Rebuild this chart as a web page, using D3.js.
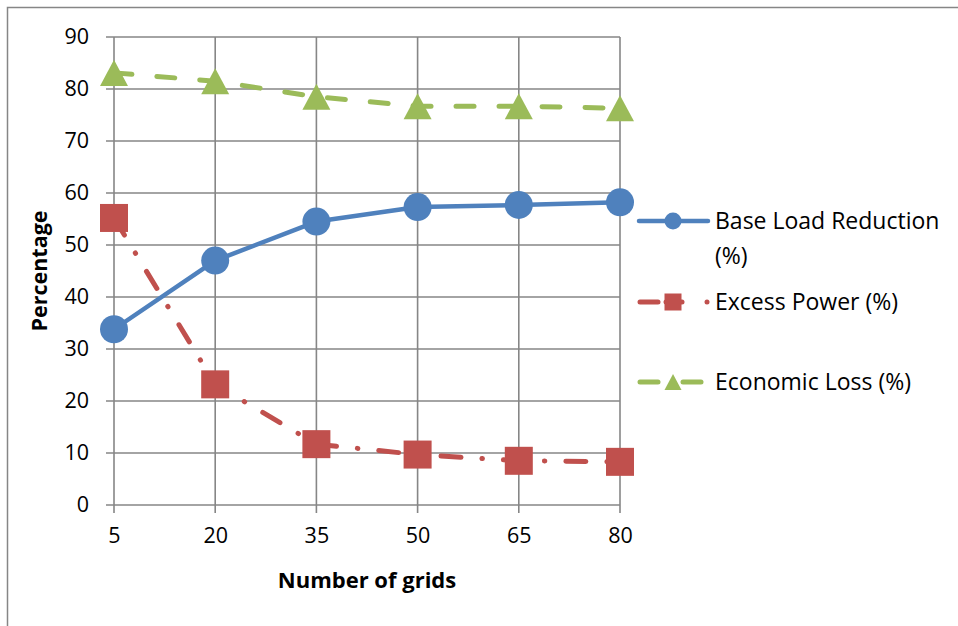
<!DOCTYPE html>
<html>
<head>
<meta charset="utf-8">
<script src="https://cdn.jsdelivr.net/npm/d3@7"></script>
<style>
  html, body { margin: 0; padding: 0; background: #fff; }
  svg { display: block; font-family: "Open Sans", Lato, sans-serif; }
</style>
</head>
<body>
<svg id="chart" width="958" height="626"></svg>
<script>
// Number of grids on the x axis
const grids = ["5", "20", "35", "50", "65", "80"];
// Series values (percent)
const baseLoadReduction = [33.8, 47.0, 54.5, 57.3, 57.7, 58.2];
const excessPower = [55.2, 23.2, 11.7, 9.7, 8.5, 8.3];
const economicLoss = [83.1, 81.5, 78.5, 76.7, 76.7, 76.3];
const yTicks = [0, 10, 20, 30, 40, 50, 60, 70, 80, 90];

const FONT = "'Open Sans', Lato, sans-serif";

const series = [
  { name: "Base Load Reduction (%)", lines: ["Base Load Reduction", "(%)"], values: baseLoadReduction,
    color: "#4F81BD", dash: null, marker: "circle" },
  { name: "Excess Power (%)", lines: ["Excess Power (%)"], values: excessPower,
    color: "#C0504D", dash: "20,21,0.5,21", marker: "square" },
  { name: "Economic Loss (%)", lines: ["Economic Loss (%)"], values: economicLoss,
    color: "#9BBB59", dash: "18,25", marker: "triangle" }
];

const svg = d3.select("#chart");
const gridColor = "#868686";

// Chart frame
svg.append("rect")
  .attr("x", 7.5).attr("y", 7.5).attr("width", 1200).attr("height", 1200)
  .attr("fill", "none").attr("stroke", gridColor).attr("stroke-width", 1.5);

const x = d3.scalePoint().domain(grids).range([114, 620]);
const y = d3.scaleLinear().domain([0, 90]).range([505, 37]);

// Gridlines
const grid = svg.append("g").attr("stroke", gridColor).attr("stroke-width", 1.6);
grid.selectAll("line.h").data(yTicks).join("line")
  .attr("x1", x.range()[0] - 8).attr("x2", x.range()[1])
  .attr("y1", d => y(d)).attr("y2", d => y(d));
grid.selectAll("line.v").data(grids).join("line")
  .attr("x1", d => x(d)).attr("x2", d => x(d))
  .attr("y1", y(90)).attr("y2", y(0) + 8);

// Y axis labels
const yAxis = svg.append("g")
  .attr("transform", `translate(${x.range()[0]},0)`)
  .call(d3.axisLeft(y).tickValues(yTicks).tickSize(0).tickPadding(25));
yAxis.select(".domain").remove();
yAxis.attr("font-size", 21.5).attr("font-family", FONT);
yAxis.selectAll("text").attr("fill", "#000");

// X axis labels
const xAxis = svg.append("g")
  .attr("transform", `translate(0,${y(0)})`)
  .call(d3.axisBottom(x).tickSize(0).tickPadding(23));
xAxis.select(".domain").remove();
xAxis.attr("font-size", 21.5).attr("font-family", FONT);
xAxis.selectAll("text").attr("fill", "#000");

// Axis titles
svg.append("text")
  .attr("x", 367).attr("y", 588).attr("text-anchor", "middle")
  .attr("font-size", 22).attr("font-weight", "bold").text("Number of grids");
svg.append("text")
  .attr("transform", `translate(47,${(y(0) + y(90)) / 2}) rotate(-90)`)
  .attr("text-anchor", "middle")
  .attr("font-size", 21.5).attr("font-weight", "bold").text("Percentage");

// Marker drawing helper
function drawMarker(g, type, cx, cy, size, color) {
  if (type === "circle") {
    g.append("circle").attr("cx", cx).attr("cy", cy).attr("r", size / 2).attr("fill", color);
  } else if (type === "square") {
    g.append("rect").attr("x", cx - size / 2).attr("y", cy - size / 2)
      .attr("width", size).attr("height", size).attr("fill", color);
  } else {
    const h = size * 0.93;
    g.append("path")
      .attr("d", `M${cx},${cy - h / 2}L${cx + size / 2},${cy + h / 2}L${cx - size / 2},${cy + h / 2}Z`)
      .attr("fill", color);
  }
}

const line = d3.line().x((d, i) => x(grids[i])).y(d => y(d));

series.forEach(s => {
  const g = svg.append("g");
  g.append("path")
    .attr("d", line(s.values))
    .attr("fill", "none")
    .attr("stroke", s.color)
    .attr("stroke-width", s.marker === "circle" ? 4.5 : 5)
    .attr("stroke-linecap", "round")
    .attr("stroke-linejoin", "round")
    .attr("stroke-dasharray", s.dash);
  s.values.forEach((v, i) => drawMarker(g, s.marker, x(grids[i]), y(v), 28, s.color));
});

// Legend
const legendRows = [221, 302, 382];
series.forEach((s, k) => {
  const ly = legendRows[k];
  const g = svg.append("g");
  const seg = (x1, x2) => g.append("line").attr("x1", x1).attr("x2", x2).attr("y1", ly).attr("y2", ly)
    .attr("stroke", s.color).attr("stroke-width", s.marker === "circle" ? 4.5 : 5).attr("stroke-linecap", "round");
  if (s.marker === "circle") {
    seg(639, 708);
  } else if (s.marker === "square") {
    seg(640, 658);
    seg(666, 682);
    g.append("circle").attr("cx", 707).attr("cy", ly).attr("r", 2.5).attr("fill", s.color);
  } else {
    seg(640, 658);
    seg(683, 701);
  }
  drawMarker(g, s.marker, 673, ly, 17, s.color);
  const t = g.append("text").attr("x", 715).attr("y", ly + 8).attr("font-size", 23).attr("fill", "#000");
  s.lines.forEach((l, j) => t.append("tspan").attr("x", 715).attr("dy", j === 0 ? 0 : 35).text(l));
});
</script>
</body>
</html>
